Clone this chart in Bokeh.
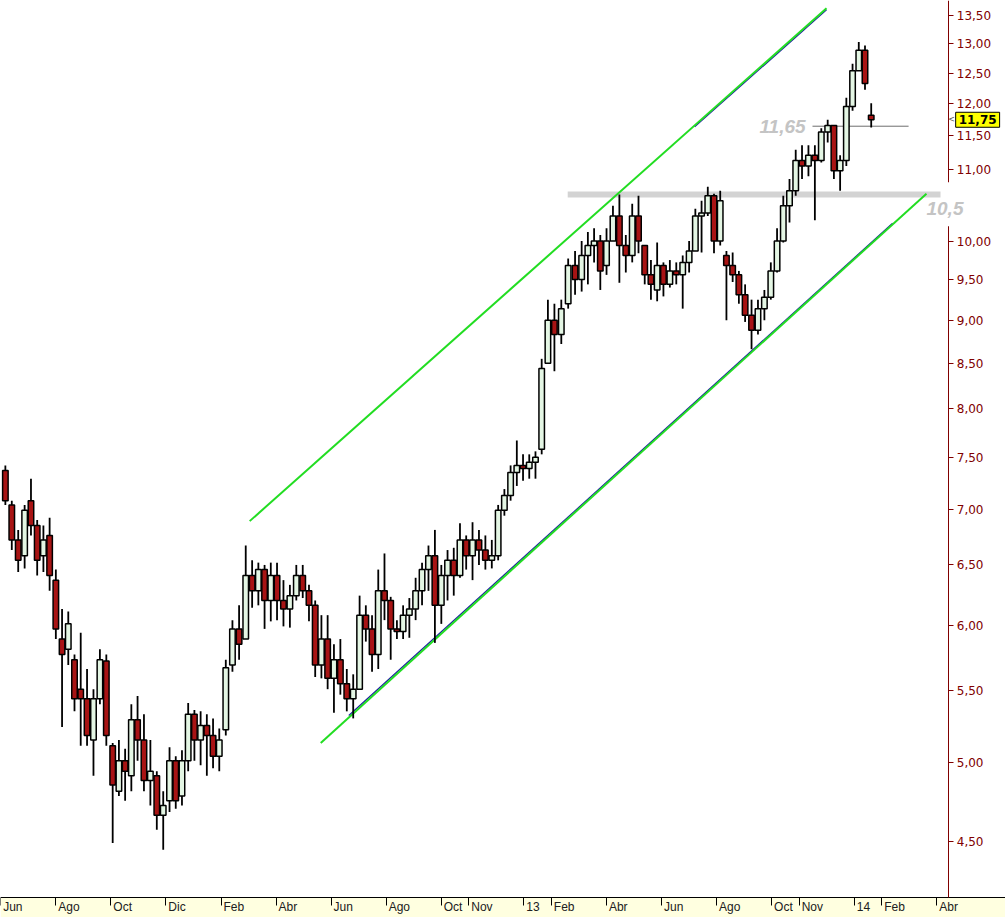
import numpy as np
import pandas as pd
from bokeh.plotting import figure
from bokeh.models import (Range1d, FixedTicker, CustomJSTickFormatter, Label,
                          ColumnDataSource, BoxAnnotation)
from bokeh.embed import file_html
from bokeh.resources import INLINE

# ---------------- data (weekly bars) ----------------
first_week = "2011-06-06"

open_ = [
    7.37, 7.04, 6.72, 6.58, 7.08, 6.85, 6.58, 6.76, 6.37, 5.89,
    5.81, 5.73, 5.51, 5.44, 5.15, 5.44, 5.72, 5.11, 4.81, 5.01,
    4.91, 5.29, 5.15, 4.88, 4.91, 4.66, 4.75, 5.01, 4.78, 5.01,
    5.33, 5.15, 5.25, 5.18, 5.04, 5.22, 5.69, 5.97, 5.89, 6.41,
    6.28, 6.46, 6.20, 6.41, 6.20, 6.13, 6.24, 6.41, 6.28, 6.16,
    5.69, 5.89, 5.59, 5.73, 5.55, 5.44, 5.51, 6.08, 5.97, 5.77,
    6.28, 6.20, 5.97, 5.95, 6.08, 6.13, 6.28, 6.46, 6.58, 6.16,
    6.41, 6.54, 6.41, 6.72, 6.58, 6.72, 6.63, 6.54, 6.58, 6.99,
    7.13, 7.35, 7.42, 7.39, 7.45, 7.58, 8.50, 9.00, 8.83, 9.20,
    9.68, 9.50, 9.81, 9.94, 10.00, 9.68, 10.00, 10.34, 9.94, 9.81,
    10.34, 9.94, 9.56, 9.37, 9.68, 9.44, 9.61, 9.56, 9.72, 9.87,
    10.34, 10.38, 10.62, 10.00, 9.81, 9.68, 9.56, 9.31, 9.06, 8.88,
    9.14, 9.28, 9.61, 10.00, 10.48, 10.69, 11.13, 11.05, 11.21, 11.13,
    11.56, 11.66, 10.98, 11.13, 11.96, 12.54, 12.89, 11.82,
]
high = [
    7.42, 7.08, 6.81, 7.04, 7.29, 6.90, 6.85, 6.92, 6.46, 6.13,
    6.11, 5.77, 5.94, 5.66, 5.51, 5.81, 5.77, 5.13, 5.15, 5.09,
    5.40, 5.46, 5.33, 5.15, 4.94, 4.81, 5.10, 5.04, 5.08, 5.41,
    5.36, 5.35, 5.33, 5.30, 5.23, 5.73, 6.04, 6.16, 6.67, 6.54,
    6.52, 6.50, 6.52, 6.52, 6.37, 6.33, 6.50, 6.50, 6.33, 6.20,
    6.08, 6.08, 5.85, 5.89, 5.66, 5.62, 6.24, 6.16, 6.08, 6.46,
    6.60, 6.23, 6.04, 6.16, 6.22, 6.39, 6.52, 6.67, 6.81, 6.50,
    6.63, 6.65, 6.87, 6.76, 6.88, 6.81, 6.76, 6.72, 7.04, 7.19,
    7.42, 7.67, 7.53, 7.53, 7.56, 8.55, 9.25, 9.20, 9.25, 9.77,
    9.87, 10.00, 10.12, 10.17, 10.08, 10.17, 10.48, 10.64, 10.08, 10.51,
    10.62, 9.94, 9.75, 9.98, 9.72, 9.75, 9.72, 9.81, 10.00, 10.44,
    10.55, 10.75, 10.65, 10.69, 9.87, 9.85, 9.61, 9.44, 9.25, 9.25,
    9.37, 9.72, 10.17, 10.62, 10.86, 11.29, 11.36, 11.36, 11.36, 11.62,
    11.75, 11.66, 11.21, 12.10, 12.66, 13.03, 12.97, 12.01,
]
low = [
    7.04, 6.63, 6.44, 6.47, 6.76, 6.41, 6.44, 6.28, 5.89, 5.24,
    5.69, 5.35, 5.11, 5.11, 4.91, 5.40, 5.11, 4.49, 4.78, 4.75,
    4.81, 5.01, 4.81, 4.72, 4.57, 4.45, 4.68, 4.70, 4.72, 4.94,
    5.01, 4.98, 4.91, 4.96, 4.94, 5.18, 5.64, 5.73, 5.89, 6.14,
    6.16, 5.97, 6.03, 6.04, 5.99, 5.98, 6.20, 6.22, 6.03, 5.60,
    5.59, 5.51, 5.34, 5.47, 5.35, 5.30, 5.51, 5.87, 5.64, 5.66,
    6.04, 5.73, 5.89, 5.89, 5.90, 6.04, 6.16, 6.28, 5.86, 6.01,
    6.20, 6.24, 6.39, 6.46, 6.37, 6.50, 6.46, 6.47, 6.54, 6.94,
    7.08, 7.22, 7.27, 7.29, 7.29, 7.53, 8.50, 8.41, 8.72, 9.14,
    9.31, 9.35, 9.44, 9.72, 9.37, 9.56, 10.00, 9.46, 9.59, 9.72,
    9.84, 9.44, 9.25, 9.23, 9.29, 9.40, 9.44, 9.14, 9.59, 9.87,
    9.85, 10.34, 9.84, 9.94, 9.00, 9.47, 9.20, 8.98, 8.66, 8.83,
    9.00, 9.25, 9.59, 9.98, 10.25, 10.62, 10.86, 10.90, 10.28, 11.10,
    11.40, 10.86, 10.69, 11.05, 11.89, 12.54, 12.23, 11.63,
]
close = [
    7.08, 6.72, 6.54, 6.99, 6.85, 6.54, 6.72, 6.41, 5.97, 5.77,
    6.01, 5.44, 5.44, 5.18, 5.44, 5.73, 5.18, 4.85, 5.01, 4.94,
    5.29, 5.15, 4.88, 4.94, 4.66, 4.72, 5.01, 4.75, 5.01, 5.33,
    5.15, 5.25, 5.18, 5.04, 5.15, 5.67, 5.97, 5.85, 6.41, 6.28,
    6.46, 6.20, 6.41, 6.20, 6.13, 6.24, 6.41, 6.28, 6.16, 5.69,
    5.89, 5.59, 5.73, 5.55, 5.44, 5.51, 6.08, 5.97, 5.77, 6.28,
    6.20, 5.97, 5.95, 6.08, 6.13, 6.28, 6.46, 6.58, 6.16, 6.41,
    6.54, 6.41, 6.72, 6.58, 6.72, 6.63, 6.54, 6.58, 6.99, 7.13,
    7.35, 7.42, 7.39, 7.45, 7.50, 8.44, 9.00, 8.83, 9.14, 9.68,
    9.50, 9.81, 9.94, 10.00, 9.61, 10.00, 10.34, 9.94, 9.81, 10.34,
    10.00, 9.56, 9.44, 9.68, 9.44, 9.61, 9.56, 9.72, 9.87, 10.34,
    10.38, 10.62, 10.00, 10.55, 9.68, 9.56, 9.31, 9.06, 8.88, 9.14,
    9.28, 9.61, 10.00, 10.48, 10.69, 11.13, 11.05, 11.21, 11.13, 11.56,
    11.66, 10.98, 11.13, 11.96, 12.54, 12.89, 12.33, 11.75,
]

# x axis: months counted from June 2011
tick_months = [0, 2, 4, 6, 8, 10, 12, 14, 16, 17, 19, 20, 22, 24, 26, 28, 29, 31, 32, 34]
tick_labels = ["Jun", "Ago", "Oct", "Dic", "Feb", "Abr", "Jun", "Ago", "Oct", "Nov",
               "13", "Feb", "Abr", "Jun", "Ago", "Oct", "Nov", "14", "Feb", "Abr"]
price_ticks = [4.5, 5.0, 5.5, 6.0, 6.5, 7.0, 7.5, 8.0, 8.5, 9.0, 9.5, 10.0,
               11.0, 11.5, 12.0, 12.5, 13.0, 13.5]

# channel / drawing lines (month, price)
upper_x = [9.04, 29.99]
upper_y = [6.89, 13.63]
lower_x = [11.62, 33.62]
lower_y = [5.13, 10.65]
blue_lower_x = [12.64, 32.39]
blue_lower_y = [5.32, 10.24]
blue_upper_x = [25.20, 29.99]
blue_upper_y = [11.64, 13.60]
resist_x = [20.59, 34.13]
resist_y = [10.64, 10.64]
level_x = [29.48, 32.97]
level_y = [11.65, 11.65]
last_price = 11.75

# chart geometry (data units)
x_start, x_end = -0.01, 36.49       # months
y_low, y_high = 4.067, 13.77        # prices (log scale)
price_axis_at = 34.43               # month where the price scale sits
time_axis_at = 4.177                # price where the time scale sits

# ---------------- build ----------------
dates = pd.date_range(first_week, periods=len(close), freq="7D")
xm = ((dates.year - 2011) * 12 + (dates.month - 6)
      + (dates.day - 1) / dates.days_in_month).to_numpy(dtype=float)

o = np.array(open_); h = np.array(high); l = np.array(low); c = np.array(close)
up = c >= o
src = ColumnDataSource(dict(
    x=xm, h=h, l=l,
    top=np.maximum(o, c), bottom=np.minimum(o, c),
    fill=np.where(up, "#e4f6e4", "#a81414"),
))

p = figure(width=1005, height=917, output_backend="svg", toolbar_location=None,
           y_axis_type="log", x_range=Range1d(x_start, x_end),
           y_range=Range1d(y_low, y_high), y_axis_location="right",
           min_border=0, outline_line_color=None,
           background_fill_color="white", border_fill_color="white")
p.grid.visible = False

# yellow time-scale band
p.add_layout(BoxAnnotation(top=time_axis_at, fill_color="#ffffe0", fill_alpha=1,
                           line_color=None, level="underlay"))

# drawings under the bars
p.line(resist_x, resist_y, line_color="#d3d3d3", line_width=6)
p.line(level_x, level_y, line_color="#6e6e6e", line_width=1)
p.line(blue_lower_x, blue_lower_y, line_color="#1a1aa0", line_width=1.2)
p.line(blue_upper_x, blue_upper_y, line_color="#1a1aa0", line_width=1.2)
p.line(upper_x, upper_y, line_color="#22dd22", line_width=2)
p.line(lower_x, lower_y, line_color="#22dd22", line_width=2)

# candles
p.segment("x", "h", "x", "l", source=src, line_color="black", line_width=1.8)
p.vbar(x="x", width=0.2, top="top", bottom="bottom", source=src,
       fill_color="fill", line_color="black", line_width=1.5)

# x axis
xa = p.xaxis[0]
xa.fixed_location = time_axis_at
xa.ticker = FixedTicker(ticks=tick_months)
xa.formatter = CustomJSTickFormatter(
    args=dict(tpos=tick_months, tlab=tick_labels),
    code="const i = tpos.indexOf(Math.round(tick)); return i >= 0 ? '\\u2009' + tlab[i] : '';")
xa.axis_line_color = "black"
xa.major_tick_line_color = "black"
xa.major_tick_out = 8
xa.major_tick_in = 0
xa.minor_tick_line_color = None
xa.major_label_text_font = "'Liberation Sans Narrow', 'Arial Narrow', sans-serif"
xa.major_label_text_font_size = "12px"
xa.major_label_text_color = "#202020"
xa.major_label_orientation = -0.0001
xa.major_label_standoff = 2

# y axis
ya = p.yaxis[0]
ya.fixed_location = price_axis_at
ya.bounds = (time_axis_at, y_high)
ya.ticker = FixedTicker(ticks=price_ticks)
ya.formatter = CustomJSTickFormatter(code="return tick.toFixed(2).replace('.', ',');")
ya.axis_line_color = "#800000"
ya.major_tick_line_color = "#800000"
ya.major_tick_out = 5
ya.major_tick_in = 0
ya.minor_tick_line_color = None
ya.major_label_text_color = "#800000"
ya.major_label_text_font = "DejaVu Sans"
ya.major_label_text_font_size = "12px"
ya.major_label_standoff = 3

# annotations
p.add_layout(Label(x=price_axis_at, y=10.5, text=" ", text_font_size="40px",
                   text_align="center", text_baseline="middle",
                   background_fill_color="white"))
p.add_layout(Label(x=33.62, y=10.44, text="10,5", text_font="Liberation Sans",
                   text_font_style="bold italic", text_font_size="19px",
                   text_color="#c4c4c4", text_align="left", text_baseline="middle"))
p.add_layout(Label(x=29.23, y=level_y[0], text="11,65", text_font="Liberation Sans",
                   text_font_style="bold italic", text_font_size="19px",
                   text_color="#c4c4c4", text_align="right", text_baseline="middle"))
p.add_layout(Label(x=34.53, y=last_price, text="<", text_font="DejaVu Sans",
                   text_font_size="8px", text_color="#505050",
                   text_align="center", text_baseline="middle"))
p.add_layout(Label(x=34.68, y=last_price, text="11,75", text_font="DejaVu Sans",
                   text_font_style="bold", text_font_size="12px", text_color="black",
                   text_align="left", text_baseline="middle",
                   background_fill_color="#ffff00", border_line_color="black",
                   padding=3))

open("out.html", "w").write(file_html(p, INLINE))
